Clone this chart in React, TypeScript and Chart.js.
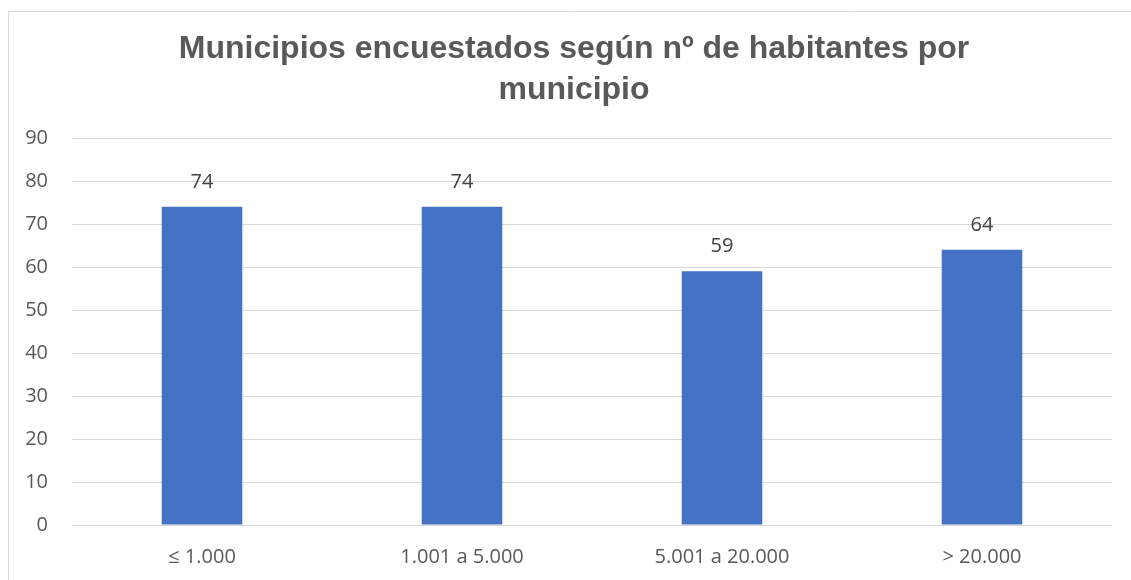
import React, { useEffect, useRef } from "react";
import { Chart, registerables } from "chart.js";

Chart.register(...registerables);

const categories = ["≤ 1.000", "1.001 a 5.000", "5.001 a 20.000", "> 20.000"];
const values = [74, 74, 59, 64];
const titleLines = ["Municipios encuestados según nº de habitantes por", "municipio"];
const yMin = 0;
const yMax = 90;
const yStep = 10;

const TICK_FONT = "'Open Sans', 'Liberation Sans', sans-serif";
const TITLE_FONT = "bold 32px 'Liberation Sans', Arial, sans-serif";

const borderPlugin = {
  id: "frameBorder",
  beforeDraw(chart: any) {
    const ctx = chart.ctx;
    ctx.save();
    ctx.strokeStyle = "#d9d9d9";
    ctx.lineWidth = 1;
    ctx.beginPath();
    ctx.moveTo(8.5, chart.height);
    ctx.lineTo(8.5, 11.5);
    ctx.lineTo(chart.width, 11.5);
    ctx.stroke();
    ctx.restore();
  },
};

const titlePlugin = {
  id: "customTitle",
  afterDraw(chart: any) {
    const ctx = chart.ctx;
    ctx.save();
    ctx.fillStyle = "#595959";
    ctx.font = TITLE_FONT;
    ctx.textAlign = "center";
    ctx.textBaseline = "alphabetic";
    titleLines.forEach((line, i) => {
      ctx.fillText(line, 574, 58 + i * 41);
    });
    ctx.restore();
  },
};

const valueLabelPlugin = {
  id: "valueLabels",
  afterDatasetsDraw(chart: any) {
    const ctx = chart.ctx;
    const meta = chart.getDatasetMeta(0);
    ctx.save();
    ctx.fillStyle = "#404040";
    ctx.font = `20px ${TICK_FONT}`;
    ctx.textAlign = "center";
    ctx.textBaseline = "middle";
    meta.data.forEach((bar: any, i: number) => {
      ctx.fillText(String(values[i]), bar.x, bar.y - 25);
    });
    ctx.restore();
  },
};

export default function App() {
  const ref = useRef<HTMLCanvasElement | null>(null);

  useEffect(() => {
    if (!ref.current) return;
    const chart = new Chart(ref.current, {
      type: "bar",
      data: {
        labels: categories,
        datasets: [
          {
            data: values,
            backgroundColor: "#4472C4",
            borderWidth: 0,
            categoryPercentage: 1,
            barPercentage: 0.31,
          },
        ],
      },
      options: {
        responsive: false,
        animation: false,
        layout: { padding: { left: 0, right: 19, top: 138, bottom: 11 } },
        plugins: {
          legend: { display: false },
          tooltip: { enabled: false },
          title: { display: false },
        },
        scales: {
          x: {
            grid: { display: false, drawTicks: false },
            border: { display: false },
            ticks: {
              color: "#595959",
              font: { family: TICK_FONT, size: 20 },
              padding: 20,
              maxRotation: 0,
            },
            afterFit(scale: any) {
              scale.height = 44;
            },
          },
          y: {
            min: yMin,
            max: yMax,
            grid: { color: "#d9d9d9", lineWidth: 1, drawTicks: false },
            border: { display: false },
            ticks: {
              stepSize: yStep,
              color: "#595959",
              font: { family: TICK_FONT, size: 20 },
              padding: 24,
            },
            afterFit(scale: any) {
              scale.width = 72;
            },
          },
        },
      },
      plugins: [borderPlugin, titlePlugin, valueLabelPlugin],
    });
    return () => chart.destroy();
  }, []);

  return (
    <div style={{ position: "absolute", left: 0, top: 0, width: 1131, height: 580, background: "#fff" }}>
      <canvas ref={ref} width={1131} height={580} style={{ display: "block" }} />
    </div>
  );
}
